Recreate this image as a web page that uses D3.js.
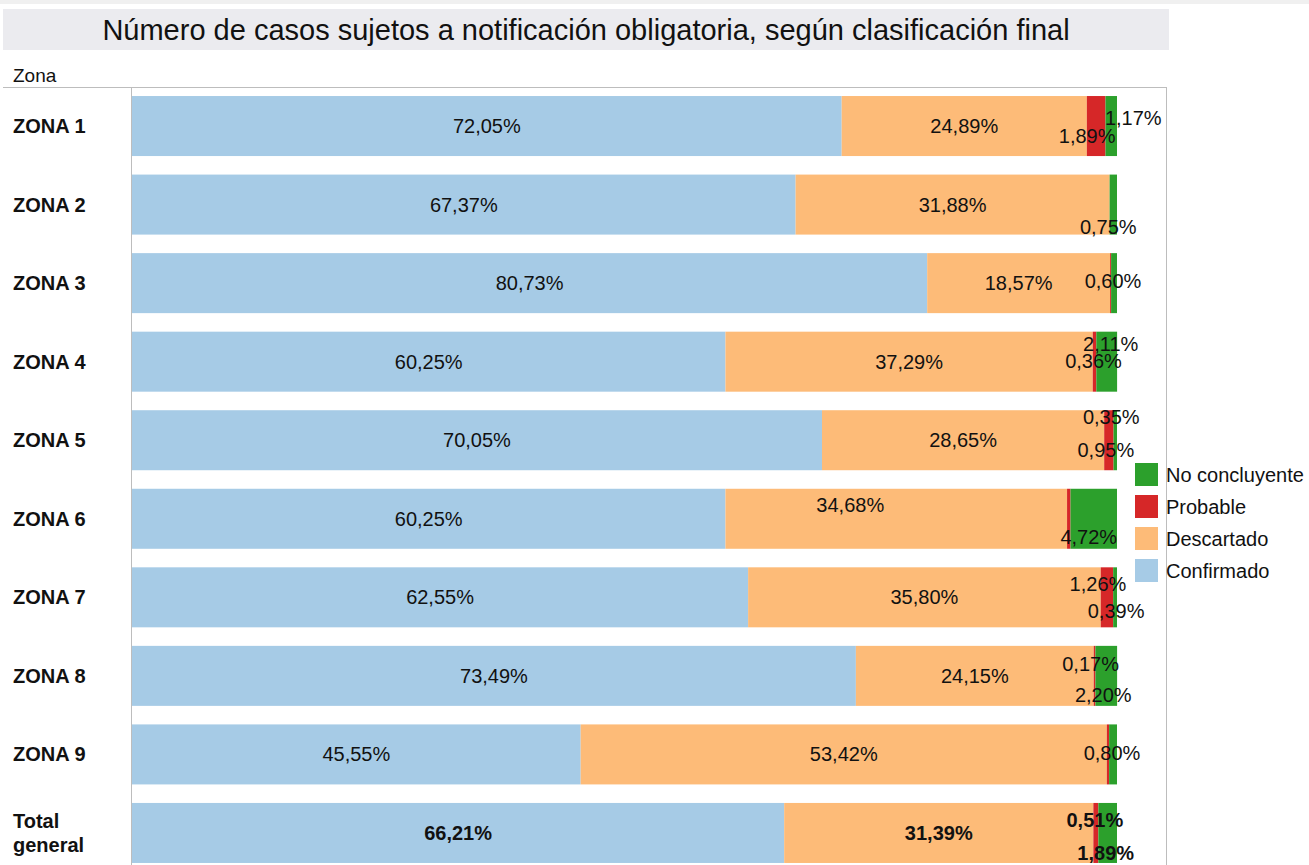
<!DOCTYPE html>
<html>
<head>
<meta charset="utf-8">
<script src="https://cdn.jsdelivr.net/npm/d3@7"></script>
<style>
  body { margin: 0; background: #fff; }
  svg { display: block; font-family: "Liberation Sans", Arial, sans-serif; }
</style>
</head>
<body>
<div class="chart"></div>
<script>
// data (percent of each zone)
const zones = ['ZONA 1', 'ZONA 2', 'ZONA 3', 'ZONA 4', 'ZONA 5', 'ZONA 6', 'ZONA 7', 'ZONA 8', 'ZONA 9', 'Total general']
const confirmado = [72.05, 67.37, 80.73, 60.25, 70.05, 60.25, 62.55, 73.49, 45.55, 66.21]
const descartado = [24.89, 31.88, 18.57, 37.29, 28.65, 34.68, 35.80, 24.15, 53.42, 31.39]
const probable = [1.89, 0, 0.10, 0.36, 0.95, 0.35, 1.26, 0.17, 0.23, 0.51]
const noConcluyente = [1.17, 0.75, 0.60, 2.11, 0.35, 4.72, 0.39, 2.20, 0.80, 1.89]

const series = ['Confirmado', 'Descartado', 'Probable', 'No concluyente']
const colors = ['#a6cbe6', '#fdbb78', '#d62728', '#2ca02c']
const legendOrder = ['No concluyente', 'Probable', 'Descartado', 'Confirmado']

// label nudges where the labels of thin segments were moved apart
const labelNudge = {
    'ZONA 1': { 'Probable': [-9, 10], 'No concluyente': [22, -8] },
    'ZONA 2': { 'Probable': null, 'No concluyente': [-5, 22] },
    'ZONA 3': { 'Probable': null, 'No concluyente': [-1, -2] },
    'ZONA 4': { 'Probable': [-1, -1], 'No concluyente': [4, -18] },
    'ZONA 5': { 'Probable': [-3, 10], 'No concluyente': [-4, -23] },
    'ZONA 6': { 'Descartado': [-46, -14], 'Probable': null, 'No concluyente': [-5, 18] },
    'ZONA 7': { 'Probable': [-9, -13], 'No concluyente': [1, 14] },
    'ZONA 8': { 'Probable': [-4, -12], 'No concluyente': [-3, 19] },
    'ZONA 9': { 'Probable': null, 'No concluyente': [-1, -1] },
    'Total general': { 'Probable': [-1, -13], 'No concluyente': [-2, 20] }
}

const rows = zones.map((z, i) => ({
    zone: z,
    'Confirmado': confirmado[i],
    'Descartado': descartado[i],
    'Probable': probable[i],
    'No concluyente': noConcluyente[i]
}))

const width = 1309
const height = 865

const svg = d3.select('.chart')
    .append('svg')
    .attr('width', width)
    .attr('height', height)

// top strip + title
svg.append('rect').attr('x', 0).attr('y', 0).attr('width', width).attr('height', 4).attr('fill', '#f0f0f0')
svg.append('rect').attr('x', 3).attr('y', 9).attr('width', 1166).attr('height', 41).attr('fill', '#ebebef')
svg.append('text')
    .attr('x', 586)
    .attr('y', 40)
    .attr('text-anchor', 'middle')
    .attr('font-size', 29)
    .attr('fill', '#111')
    .text('Número de casos sujetos a notificación obligatoria, según clasificación final')

svg.append('text')
    .attr('x', 13)
    .attr('y', 82)
    .attr('font-size', 19)
    .attr('fill', '#111')
    .text('Zona')

const x = d3.scaleLinear().domain([0, 100]).range([132, 1117])
const y = d3.scaleBand()
    .domain(zones)
    .range([87, 872])
    .paddingInner(0.236)
    .paddingOuter(0.115)
const color = d3.scaleOrdinal().domain(series).range(colors)

const stacked = d3.stack().keys(series)(rows)

// frame lines
svg.append('line').attr('x1', 3).attr('x2', 1166).attr('y1', 87.5).attr('y2', 87.5).attr('stroke', '#bdbdbd')
svg.append('line').attr('x1', 131.5).attr('x2', 131.5).attr('y1', 87).attr('y2', height).attr('stroke', '#bdbdbd')
svg.append('line').attr('x1', 1166.5).attr('x2', 1166.5).attr('y1', 87).attr('y2', height).attr('stroke', '#bdbdbd')

const layers = svg.selectAll('.layer')
    .data(stacked)
    .enter()
    .append('g')
    .attr('fill', d => color(d.key))

layers.selectAll('rect')
    .data(d => d)
    .enter()
    .append('rect')
    .attr('x', d => x(d[0]))
    .attr('y', d => y(d.data.zone))
    .attr('width', d => x(d[1]) - x(d[0]))
    .attr('height', y.bandwidth())

// value labels
const fmt = v => v.toFixed(2).replace('.', ',') + '%'
const labelData = []
stacked.forEach(layer => {
    layer.forEach(d => {
        const zone = d.data.zone
        const nudge = labelNudge[zone] || {}
        let off = [0, 0]
        if (layer.key in nudge) {
            if (nudge[layer.key] === null) return
            off = nudge[layer.key]
        }
        labelData.push({ zone, key: layer.key, value: d.data[layer.key], cx: (x(d[0]) + x(d[1])) / 2 + off[0], cy: y(zone) + y.bandwidth() / 2 + off[1] })
    })
})

svg.selectAll('.val')
    .data(labelData)
    .enter()
    .append('text')
    .attr('class', 'val')
    .attr('x', d => d.cx)
    .attr('y', d => d.cy + 7)
    .attr('text-anchor', 'middle')
    .attr('font-size', 20)
    .attr('font-weight', d => d.zone === 'Total general' ? 'bold' : 'normal')
    .attr('fill', '#111')
    .text(d => fmt(d.value))

// zone labels
svg.selectAll('.zone')
    .data(zones)
    .enter()
    .append('text')
    .attr('class', 'zone')
    .attr('x', 13)
    .attr('y', d => y(d) + y.bandwidth() / 2 + 7)
    .attr('font-size', 20)
    .attr('font-weight', 'bold')
    .attr('fill', '#111')
    .each(function (d) {
        const words = d === 'Total general' ? ['Total', 'general'] : [d]
        const t = d3.select(this)
        if (words.length === 1) {
            t.text(d)
        } else {
            t.append('tspan').attr('x', 13).attr('dy', -12).text(words[0])
            t.append('tspan').attr('x', 13).attr('dy', 24).text(words[1])
        }
    })

// legend
const legend = svg.selectAll('.legend')
    .data(legendOrder)
    .enter()
    .append('g')
    .attr('transform', (d, i) => `translate(1135, ${463 + i * 32})`)

legend.append('rect')
    .attr('width', 23)
    .attr('height', 23)
    .attr('fill', d => color(d))

legend.append('text')
    .attr('x', 31)
    .attr('y', 19)
    .attr('font-size', 20)
    .attr('fill', '#111')
    .text(d => d)
</script>
</body>
</html>
